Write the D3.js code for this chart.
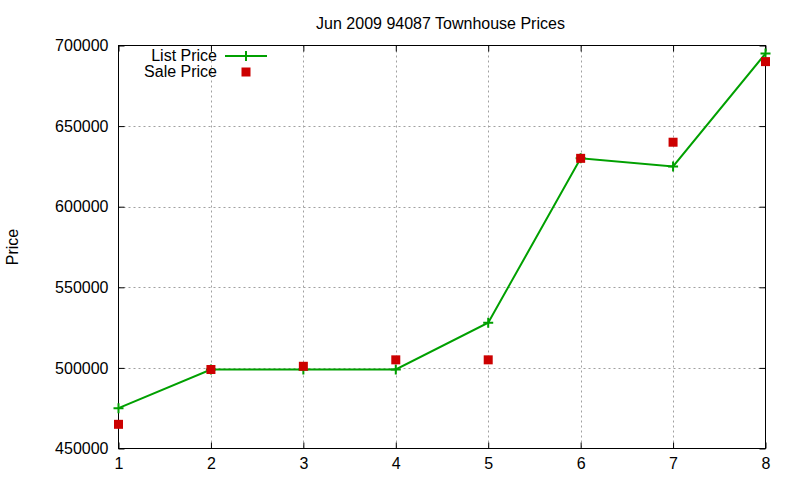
<!DOCTYPE html>
<html><head><meta charset="utf-8">
<script src="https://cdn.jsdelivr.net/npm/d3@7"></script>
<style>body{margin:0;background:#fff}text{font-family:"Liberation Sans",Arial,sans-serif}</style>
</head><body><svg id="c" width="800" height="480"></svg>
<script>
const categories = [1,2,3,4,5,6,7,8];
const listPrice = [475000,499000,499000,499000,528000,630000,625000,695000];
const salePrice = [465000,499000,501000,505000,505000,630000,640000,690000];
const yTicks = [450000,500000,550000,600000,650000,700000];
const title = "Jun 2009 94087 Townhouse Prices";

const svg = d3.select("#c");
const L=118.5,R=765.5,T=45.5,B=448.5;
const x = d3.scaleLinear().domain([1,8]).range([L,R]);
const y = d3.scaleLinear().domain([450000,700000]).range([B,T]);

// grid
const g = svg.append("g");
g.selectAll(".gx").data(categories.slice(1,-1)).enter().append("line")
 .attr("x1",d=>Math.round(x(d))+0.5).attr("x2",d=>Math.round(x(d))+0.5).attr("y1",T).attr("y2",B)
 .attr("stroke","#a0a0a0").attr("stroke-dasharray","2,3");
g.selectAll(".gy").data(yTicks.slice(1,-1)).enter().append("line")
 .attr("y1",d=>Math.round(y(d))+0.5).attr("y2",d=>Math.round(y(d))+0.5).attr("x1",L).attr("x2",R)
 .attr("stroke","#a0a0a0").attr("stroke-dasharray","2,3");

// axes
const ax = svg.append("g").attr("transform",`translate(0,${B})`)
 .call(d3.axisBottom(x).tickValues(categories).tickSize(-6).tickPadding(9).tickFormat(d3.format("d")));
const axTop = svg.append("g").attr("transform",`translate(0,${T})`)
 .call(d3.axisTop(x).tickValues(categories).tickSize(-6).tickFormat(""));
const ay = svg.append("g").attr("transform",`translate(${L},0)`)
 .call(d3.axisLeft(y).tickValues(yTicks).tickSize(-6).tickPadding(10).tickFormat(d3.format("d")));
const ayR = svg.append("g").attr("transform",`translate(${R},0)`)
 .call(d3.axisRight(y).tickValues(yTicks).tickSize(-6).tickFormat(""));
[ax,axTop,ay,ayR].forEach(a=>{a.select(".domain").remove();a.selectAll("line").attr("stroke","#000");
 a.selectAll("text").attr("font-size",16).attr("fill","#000").attr("font-family","Liberation Sans, Arial, sans-serif");});
ax.selectAll("text").attr("dy","0.71em");
svg.append("rect").attr("x",L).attr("y",T).attr("width",R-L).attr("height",B-T).attr("fill","none").attr("stroke","#000");

// labels
svg.append("text").attr("x",440.5).attr("y",29).attr("text-anchor","middle").attr("font-size",16).text(title);
svg.append("text").attr("transform","translate(18,247) rotate(-90)").attr("text-anchor","middle").attr("font-size",16).text("Price");

// list line
const line = d3.line().x((d,i)=>x(categories[i])).y(d=>y(d));
svg.append("path").datum(listPrice).attr("d",line).attr("fill","none").attr("stroke","#00a000").attr("stroke-width",2);
const plus = (sel,cx,cy)=>{sel.append("path").attr("d",`M${cx-5},${cy}H${cx+5}M${cx},${cy-5}V${cy+5}`).attr("stroke","#00a000").attr("stroke-width",2);};
listPrice.forEach((d,i)=>plus(svg,x(categories[i]),y(d)));
svg.selectAll(".sp").data(salePrice).enter().append("rect")
 .attr("x",(d,i)=>x(categories[i])-4.5).attr("y",d=>y(d)-4.5).attr("width",9).attr("height",9).attr("fill","#cc0000");

// legend
svg.append("text").attr("x",217).attr("y",61).attr("text-anchor","end").attr("font-size",16).text("List Price");
svg.append("line").attr("x1",225).attr("x2",267).attr("y1",56).attr("y2",56).attr("stroke","#00a000").attr("stroke-width",2);
plus(svg,246,56);
svg.append("text").attr("x",217).attr("y",77).attr("text-anchor","end").attr("font-size",16).text("Sale Price");
svg.append("rect").attr("x",241.5).attr("y",67.5).attr("width",9).attr("height",9).attr("fill","#cc0000");
</script></body></html>
